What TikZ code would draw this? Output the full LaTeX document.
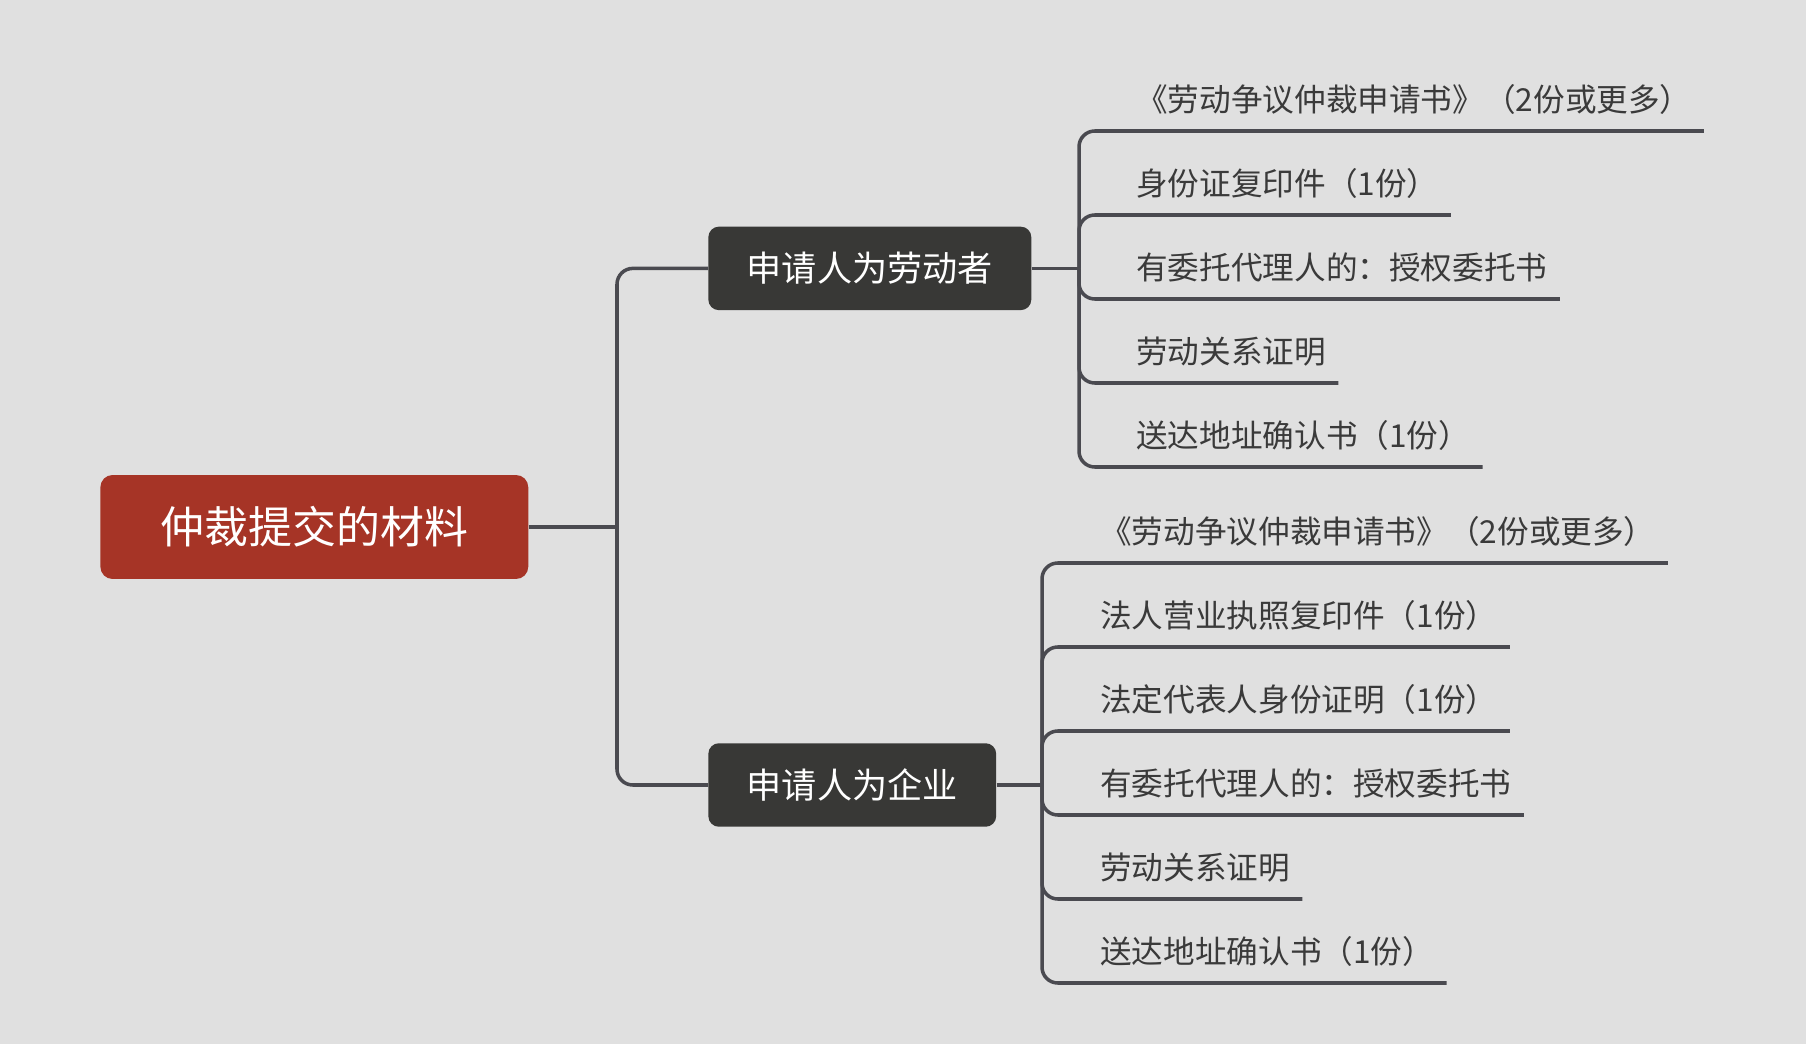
\documentclass[tikz,border=0pt]{standalone}
\usepackage{fontspec}
\setmainfont{Noto Sans CJK SC}
\definecolor{bggray}{HTML}{E0E0E0}
\definecolor{rootred}{HTML}{A63426}
\definecolor{topicdark}{HTML}{383836}
\definecolor{linegray}{HTML}{4A4A50}
\definecolor{leaftext}{HTML}{3A3A3A}

\begin{document}
\begin{tikzpicture}[x=0.02cm,y=-0.02cm,
		rootbox/.style={fill=rootred,text=white,rounded corners=7pt,anchor=west,
			minimum width=8.56cm,minimum height=2.08cm,font=\fontsize{25}{30}\selectfont},
		topicbox/.style={fill=topicdark,text=white,rounded corners=6pt,anchor=west,
			inner xsep=0.77cm,minimum height=1.67cm,font=\fontsize{20}{24}\selectfont},
		leafbox/.style={anchor=south west,inner xsep=0.24cm,inner ysep=8.8pt,
			text height=15.8pt,text depth=2.2pt,text=leaftext,font=\fontsize{18}{22}\selectfont},
		link/.style={draw=linegray,line width=2pt},
		elbow/.style={link,rounded corners=9pt}]
		\fill[bggray] (0,0) rectangle (1806,1044);
		\useasboundingbox (0,0) rectangle (1806,1044);

		\node[rootbox] (root) at (100,527) {仲裁提交的材料};
		\node[topicbox] (worker) at (708,268.4) {申请人为劳动者};
		\node[topicbox] (firm) at (708,785) {申请人为企业};

		% 劳动者
		\node[leafbox] (w1) at (1124,131) {《劳动争议仲裁申请书》（2份或更多）};
		\node[leafbox] (w2) at (1124,215) {身份证复印件（1份）};
		\node[leafbox] (w3) at (1124,299) {有委托代理人的：授权委托书};
		\node[leafbox] (w4) at (1124,383) {劳动关系证明};
		\node[leafbox] (w5) at (1124,467) {送达地址确认书（1份）};

		% 企业
		\node[leafbox] (f1) at (1088,563) {《劳动争议仲裁申请书》（2份或更多）};
		\node[leafbox] (f2) at (1088,647) {法人营业执照复印件（1份）};
		\node[leafbox] (f3) at (1088,731) {法定代表人身份证明（1份）};
		\node[leafbox] (f4) at (1088,815) {有委托代理人的：授权委托书};
		\node[leafbox] (f5) at (1088,899) {劳动关系证明};
		\node[leafbox] (f6) at (1088,983) {送达地址确认书（1份）};

		\coordinate (rootj) at (617,527);
		\coordinate (workerj) at (1079,268.4);
		\coordinate (firmj) at (1042,785);

		\draw[link] (root.east) -- (rootj);
		\draw[elbow] (rootj) |- (worker.west);
		\draw[elbow] (rootj) |- (firm.west);

		\draw[link] (worker.east) -- (workerj);
		\foreach \n in {1,...,5}
			\draw[elbow] (workerj) |- (w\n.south east);

		\draw[link] (firm.east) -- (firmj);
		\foreach \n in {1,...,6}
			\draw[elbow] (firmj) |- (f\n.south east);
	\end{tikzpicture}
\end{document}
